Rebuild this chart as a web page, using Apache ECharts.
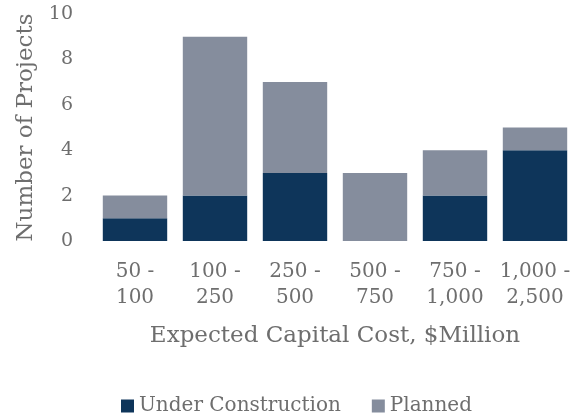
<!DOCTYPE html>
<html>
<head>
<meta charset="utf-8">
<script src="https://cdn.jsdelivr.net/npm/echarts@6/dist/echarts.min.js"></script>
<style>
  html, body { margin: 0; padding: 0; background: #fff; }
  #chart { width: 575px; height: 416px; }
</style>
</head>
<body>
<div id="chart"></div>
<script>
// Project counts by expected capital cost bracket
const categories = ['50 -\n100', '100 -\n250', '250 -\n500', '500 -\n750', '750 -\n1,000', '1,000 -\n2,500'];
const underConstruction = [1, 2, 3, 0, 2, 4];
const planned = [1, 7, 4, 3, 2, 1];
const yTicks = [0, 2, 4, 6, 8, 10];

const FONT = 'DejaVu Serif';
const TEXT = '#6e6e6e';

const chart = echarts.init(document.getElementById('chart'), null, { renderer: 'canvas' });
chart.setOption({
  animation: false,
  textStyle: { fontFamily: FONT, color: TEXT },
  grid: { left: 95, top: 14, width: 485, height: 227, containLabel: false },
  xAxis: {
    type: 'category',
    data: categories,
    axisLine: { show: false },
    axisTick: { show: false },
    axisLabel: { color: TEXT, fontFamily: FONT, fontSize: 20, lineHeight: 26, margin: 18, interval: 0 },
    name: 'Expected Capital Cost, $Million',
    nameLocation: 'middle',
    nameGap: 84,
    nameTextStyle: { color: TEXT, fontFamily: FONT, fontSize: 23 }
  },
  yAxis: {
    type: 'value',
    min: yTicks[0],
    max: yTicks[yTicks.length - 1],
    interval: 2,
    splitLine: { show: false },
    axisLine: { show: false },
    axisTick: { show: false },
    axisLabel: { color: TEXT, fontFamily: FONT, fontSize: 19, margin: 22 },
    name: 'Number of Projects',
    nameLocation: 'middle',
    nameRotate: 90,
    nameGap: 54,
    nameTextStyle: { color: TEXT, fontFamily: FONT, fontSize: 23 }
  },
  legend: {
    bottom: -5,
    left: 116,
    itemWidth: 13,
    itemHeight: 13,
    itemGap: 31,
    icon: 'rect',
    textStyle: { color: TEXT, fontFamily: FONT, fontSize: 20 },
    data: ['Under Construction', 'Planned']
  },
  series: [
    {
      name: 'Under Construction',
      type: 'bar',
      stack: 'total',
      data: underConstruction,
      barCategoryGap: '19.5%',
      itemStyle: { color: '#0e355a' }
    },
    {
      name: 'Planned',
      type: 'bar',
      stack: 'total',
      data: planned,
      barCategoryGap: '19.5%',
      itemStyle: { color: '#858d9d' }
    }
  ]
});
</script>
</body>
</html>
